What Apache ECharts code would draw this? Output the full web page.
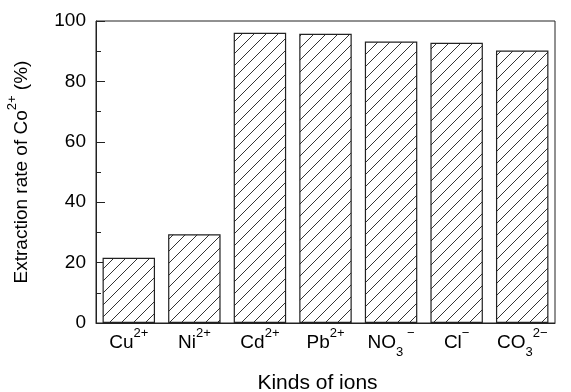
<!DOCTYPE html>
<html>
<head>
<meta charset="utf-8">
<script src="https://cdn.jsdelivr.net/npm/echarts@6/dist/echarts.min.js"></script>
<style>
html,body{margin:0;padding:0;background:#fff;}
#c{width:571px;height:392px;}
</style>
</head>
<body>
<div id="c"></div>
<script>
// Data
const categories = ['{n|Cu}{sup|2+}', '{n|Ni}{sup|2+}', '{n|Cd}{sup|2+}', '{n|Pb}{sup|2+}', '{n|NO}{sub|3}{sup| \u2212}', '{n|Cl}{sup|\u2212}', '{n|CO}{sub|3}{sup|2\u2212}'];
const extractionRate = [21.6, 29.4, 96.1, 95.8, 93.2, 92.8, 90.2];
const yTicks = { min: 0, max: 100, interval: 20 };
const xTitle = 'Kinds of ions';
const yTitle = '{n|Extraction rate of Co}{sup|2+}{n| (%)}';

const FONT = '"Liberation Sans", Arial, sans-serif';
const INK = '#222';

function hatch() {
  const s = 12;
  const c = document.createElement('canvas');
  c.width = s; c.height = s;
  const g = c.getContext('2d');
  g.fillStyle = '#fff';
  g.fillRect(0, 0, s, s);
  g.strokeStyle = '#333';
  g.lineWidth = 1;
  g.beginPath();
  g.moveTo(0, s); g.lineTo(s, 0);
  g.moveTo(-s, s); g.lineTo(s, -s);
  g.moveTo(0, 2 * s); g.lineTo(2 * s, 0);
  g.stroke();
  return c;
}

const chart = echarts.init(document.getElementById('c'), null, { renderer: 'canvas' });
chart.setOption({
  animation: false,
  backgroundColor: '#fff',
  grid: {
    left: 96, right: 16, top: 21, bottom: 69,
    containLabel: false,
    outerBoundsMode: 'none',
    show: true, borderColor: INK, borderWidth: 1, backgroundColor: 'transparent'
  },
  xAxis: {
    type: 'category',
    data: categories,
    name: xTitle,
    nameLocation: 'middle',
    nameGap: 50,
    nameTextStyle: { fontFamily: FONT, fontSize: 21, color: '#000', padding: [0, 16, 0, 0] },
    axisLine: { lineStyle: { color: INK, width: 1 } },
    axisTick: { show: true, inside: true, alignWithLabel: true, length: 9, lineStyle: { color: INK } },
    axisLabel: {
      interval: 0,
      hideOverlap: false,
      margin: 4,
      color: '#000',
      fontFamily: FONT,
      rich: {
        n: { fontFamily: FONT, fontSize: 19, lineHeight: 32, color: '#000' },
        sup: { fontFamily: FONT, fontSize: 13, lineHeight: 12, verticalAlign: 'top', color: '#000' },
        sub: { fontFamily: FONT, fontSize: 13, lineHeight: 12, verticalAlign: 'bottom', color: '#000' }
      }
    },
    splitLine: { show: false }
  },
  yAxis: {
    type: 'value',
    min: yTicks.min, max: yTicks.max, interval: yTicks.interval,
    name: yTitle,
    nameLocation: 'middle',
    nameRotate: 90,
    nameGap: 58,
    nameTextStyle: {
      rich: {
        n: { fontFamily: FONT, fontSize: 19, lineHeight: 32, color: '#000' },
        sup: { fontFamily: FONT, fontSize: 13, lineHeight: 12, verticalAlign: 'top', color: '#000' }
      }
    },
    axisLine: { show: true, lineStyle: { color: INK, width: 1 } },
    axisTick: { show: true, inside: true, length: 9, lineStyle: { color: INK } },
    minorTick: { show: true, splitNumber: 2, length: 5, lineStyle: { color: INK } },
    axisLabel: { margin: 10, color: '#000', fontFamily: FONT, fontSize: 19 },
    splitLine: { show: false }
  },
  series: [{
    type: 'bar',
    data: extractionRate,
    barCategoryGap: '20%',
    itemStyle: {
      color: { image: hatch(), repeat: 'repeat' },
      borderColor: INK,
      borderWidth: 1.2
    }
  }]
});
</script>
</body>
</html>
